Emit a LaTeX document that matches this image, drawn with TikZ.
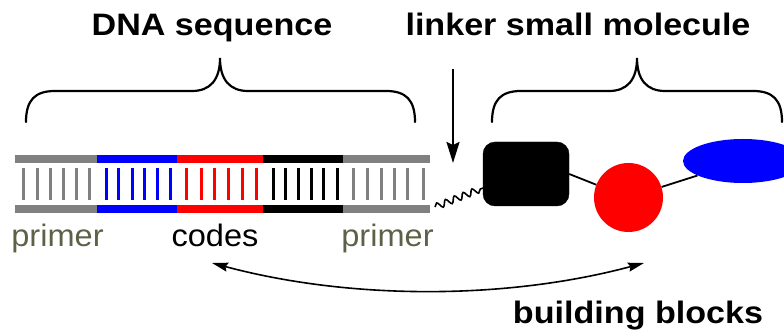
\documentclass[tikz,border=0pt]{standalone}
\usepackage{fontspec}
\setmainfont{Liberation Sans}
\usetikzlibrary{arrows.meta,decorations.pathmorphing,shapes.geometric}
\definecolor{bargray}{RGB}{128,128,128}
\definecolor{primercol}{RGB}{92,98,72}
\begin{document}
\begin{tikzpicture}[x=1pt,y=-1pt,
  title/.style={inner sep=0pt,anchor=base,font=\fontsize{31}{33}\selectfont\bfseries},
  lab/.style={inner sep=0pt,anchor=base,font=\fontsize{31}{33}\selectfont},
  brace/.style={line width=2.2pt,line cap=round},
  tick/.style={line width=3pt}]
\useasboundingbox (0,0) rectangle (784,336);
\clip (0,0) rectangle (784,336);
% titles
\node[title] (tdna) at (212,36) {\scalebox{1.1}[1]{DNA sequence}};
\node[title] (tlink) at (578,36) {\scalebox{1.1}[1]{linker small molecule}};
\node[title] (tbb) at (638,324) {\scalebox{1.1}[1]{building blocks}};
% braces
\draw[brace] (26,122) .. controls (26,100) and (35,91) .. (55,91) -- (192,91)
  .. controls (210,91) and (220,80) .. (220,58)
  .. controls (220,80) and (230,91) .. (248,91) -- (386,91)
  .. controls (406,91) and (415,100) .. (415,122);
\draw[brace] (492,122) .. controls (492,100) and (501,91) .. (521,91) -- (609,91)
  .. controls (627,91) and (637,80) .. (637,58)
  .. controls (637,80) and (647,91) .. (665,91) -- (753,91)
  .. controls (773,91) and (782,100) .. (782,122);
% DNA strands
\foreach \a/\b/\c in {15/97/bargray,97/177/blue,177/263/red,263/343/black,343/430/bargray}{
  \fill[\c] (\a,155) rectangle (\b,163);
  \fill[\c] (\a,205) rectangle (\b,213);
}
\foreach \x in {23,37,50,63,76,89,353,367,381,394,407,423}
  \draw[tick,bargray] (\x,168) -- (\x,200);
\foreach \x in {106,118,132,144,157,170}
  \draw[tick,blue] (\x,168) -- (\x,200);
\foreach \x in {186,201,214,228,242,256}
  \draw[tick,red] (\x,168) -- (\x,200);
\foreach \x in {273,285,298,311,323,337}
  \draw[tick,black] (\x,168) -- (\x,200);
% labels
\node[lab,text=primercol] (p1) at (57.5,247) {\scalebox{1.05}[1]{primer}};
\node[lab] (codes) at (215,247) {\scalebox{1.05}[1]{codes}};
\node[lab,text=primercol] (p2) at (387.5,247) {\scalebox{1.05}[1]{primer}};
% molecule
\node[draw=black,fill=black,rounded corners=12pt,minimum width=86pt,minimum height=64pt,inner sep=0pt] (box) at (526,174) {};
\node[circle,fill=red,minimum size=69pt,inner sep=0pt] (circ) at (628.5,197.5) {};
\node[ellipse,fill=blue,minimum width=120pt,minimum height=44pt,inner sep=0pt] (ell) at (743,161) {};
\draw[line width=1.8pt] (box.east) -- (circ);
\draw[line width=1.8pt] (circ) -- (ell);
% linker wave
\coordinate (wstart) at (435,207);
\coordinate (wend) at (483,188);
\draw[line width=1.6pt,decorate,decoration={snake,amplitude=3.2pt,segment length=9.5pt}] (wstart) -- (wend);
% linker arrow
\coordinate (atop) at (453,69);
\coordinate (atip) at (453,163);
\draw[line width=2pt,-{Stealth[length=21pt,width=13pt,inset=3pt]}] (atop) -- (atip);
% double arrow
\coordinate (aleft) at (212,263);
\coordinate (aright) at (644,263);
\draw[line width=1.6pt,{Stealth[length=16pt,width=9pt,inset=2pt]}-{Stealth[length=16pt,width=9pt,inset=2pt]}]
  (aleft) .. controls (350,300) and (506,300) .. (aright);
\end{tikzpicture}
\end{document}
